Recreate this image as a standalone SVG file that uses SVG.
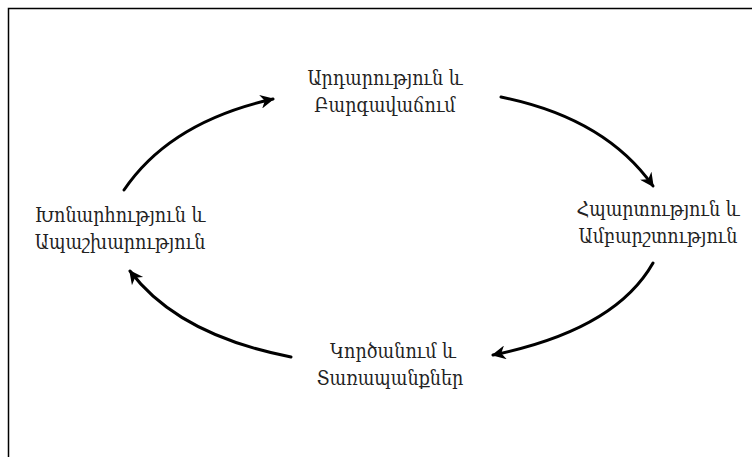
<svg xmlns="http://www.w3.org/2000/svg" width="752" height="457" viewBox="0 0 752 457">
<defs>
<style>
.t{font-family:"DejaVu Serif Condensed","DejaVu Serif","Liberation Serif",serif;font-size:19.5px;fill:#222;text-anchor:middle}
.c{fill:none;stroke:#000;stroke-width:3;stroke-linecap:round}
</style>
<marker id="ah" viewBox="0 0 10 10" refX="9" refY="5" markerWidth="18" markerHeight="14" markerUnits="userSpaceOnUse" orient="auto">
<path d="M0,0 L10,5 L0,10 L3,5 z" fill="#000"/>
</marker>
</defs>
<rect width="752" height="457" fill="#fff"/>
<path d="M8.5,457 V8.5 H752" fill="none" stroke="#000" stroke-width="1.5"/>
<g id="connectors">
<path class="c" d="M124,190 Q170,122 273,99" marker-end="url(#ah)"/>
<path class="c" d="M501,97 Q605,118 653,186" marker-end="url(#ah)"/>
<path class="c" d="M653,263 Q615,330 493,355" marker-end="url(#ah)"/>
<path class="c" d="M291,357 Q178,335 130,271" marker-end="url(#ah)"/>
</g>
<g id="n1"><text class="t" x="385" y="85">Արդարություն և</text><text class="t" x="385" y="112">Բարգավաճում</text></g>
<g id="n2"><text class="t" x="658" y="216">Հպարտություն և</text><text class="t" x="658" y="243">Ամբարշտություն</text></g>
<g id="n3"><text class="t" x="393" y="358">Կործանում և</text><text class="t" x="390" y="385">Տառապանքներ</text></g>
<g id="n4"><text class="t" x="120" y="222">Խոնարհություն և</text><text class="t" x="120" y="249">Ապաշխարություն</text></g>
</svg>
